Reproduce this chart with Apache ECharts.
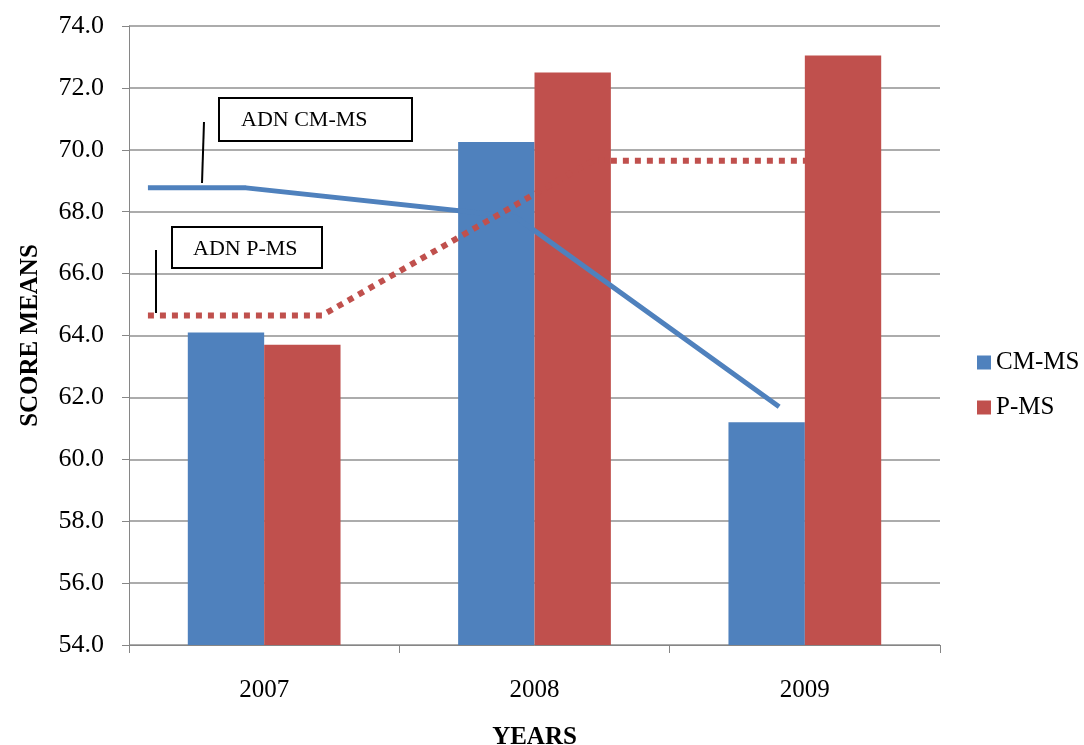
<!DOCTYPE html>
<html>
<head>
<meta charset="utf-8">
<script src="https://cdn.jsdelivr.net/npm/echarts@6/dist/echarts.min.js"></script>
<style>
  html, body { margin: 0; padding: 0; background: #fff; }
  #chart { width: 1084px; height: 745px; }
</style>
</head>
<body>
<div id="chart"></div>
<script>
// Score means by year
let years = ['2007', '2008', '2009'];
let cmMs = [64.1, 70.25, 61.2];
let pMs = [63.7, 72.5, 73.05];

// ADN lines, x in category units (0 = 2007, 1 = 2008, 2 = 2009)
let adnCmX = [-0.43, -0.067, 0.928, 1.905];
let adnCmY = [68.77, 68.77, 67.84, 61.7];
let adnPX = [-0.43, 0.214, 1.217, 2.012];
let adnPY = [64.65, 64.65, 69.65, 69.65];

let yTicks = { min: 54, max: 74, interval: 2 };

let blue = '#4F81BD';
let red = '#C0504D';
let font = '"Liberation Serif", "Times New Roman", serif';

function pairs(xs, ys) {
    return xs.map(function (x, i) { return [x, ys[i]]; });
}

let chart = echarts.init(document.getElementById('chart'));

let option = {
    animation: false,
    backgroundColor: '#fff',
    textStyle: { fontFamily: font, color: '#000' },

    grid: { left: 129, right: 144, top: 26, bottom: 100, outerBoundsMode: 'none', containLabel: false },

    legend: {
        data: ['CM-MS', 'P-MS'],
        orient: 'vertical',
        left: 972,
        top: 345,
        itemWidth: 14,
        itemHeight: 14,
        itemGap: 20,
        icon: 'rect',
        textStyle: { fontFamily: font, fontSize: 25, color: '#000' },
    },

    xAxis: [
        {
            type: 'category',
            data: years,
            name: 'YEARS',
            nameLocation: 'middle',
            nameGap: 80,
            nameTextStyle: { fontFamily: font, fontSize: 25, fontWeight: 'bold', color: '#000' },
            axisLine: { lineStyle: { color: '#868686', width: 1 } },
            axisTick: { show: true, length: 8, lineStyle: { color: '#868686' } },
            axisLabel: { margin: 33, fontFamily: font, fontSize: 25, color: '#000' },
        },
        {
            type: 'value',
            min: -0.5,
            max: 2.5,
            show: false,
        },
    ],

    yAxis: {
        type: 'value',
        min: yTicks.min,
        max: yTicks.max,
        interval: yTicks.interval,
        name: 'SCORE MEANS',
        nameLocation: 'middle',
        nameGap: 86,
        nameTextStyle: { fontFamily: font, fontSize: 25, fontWeight: 'bold', color: '#000' },
        axisLine: { show: true, onZero: false, lineStyle: { color: '#868686', width: 1 } },
        axisTick: { show: true, length: 7, lineStyle: { color: '#868686' } },
        axisLabel: {
            margin: 25,
            fontFamily: font,
            fontSize: 26,
            color: '#000',
            formatter: function (v) { return v.toFixed(1); },
        },
        splitLine: { lineStyle: { color: '#acacac', width: 2 } },
    },

    series: [
        {
            name: 'CM-MS',
            type: 'bar',
            data: cmMs,
            barGap: '0%',
            barCategoryGap: '43.5%',
            itemStyle: { color: blue },
        },
        {
            name: 'P-MS',
            type: 'bar',
            data: pMs,
            itemStyle: { color: red },
        },
        {
            name: 'ADN CM-MS',
            type: 'line',
            xAxisIndex: 1,
            data: pairs(adnCmX, adnCmY),
            symbol: 'none',
            lineStyle: { color: blue, width: 5 },
            z: 5,
        },
        {
            name: 'ADN P-MS',
            type: 'line',
            xAxisIndex: 1,
            data: pairs(adnPX, adnPY),
            symbol: 'none',
            lineStyle: { color: red, width: 6, type: [6, 6], cap: 'butt' },
            z: 5,
        },
    ],

    // Callout boxes
    graphic: [
        {
            type: 'rect',
            shape: { x: 219, y: 98, width: 193, height: 43 },
            style: { fill: '#fff', stroke: '#000', lineWidth: 2 },
            z: 10,
        },
        {
            type: 'text',
            x: 241,
            y: 120,
            style: { text: 'ADN CM-MS', font: '22px ' + font, fill: '#000', textVerticalAlign: 'middle' },
            z: 11,
        },
        {
            type: 'line',
            shape: { x1: 204, y1: 122, x2: 202, y2: 183 },
            style: { stroke: '#000', lineWidth: 2 },
            z: 10,
        },
        {
            type: 'rect',
            shape: { x: 172, y: 227, width: 150, height: 41 },
            style: { fill: '#fff', stroke: '#000', lineWidth: 2 },
            z: 10,
        },
        {
            type: 'text',
            x: 193,
            y: 249,
            style: { text: 'ADN P-MS', font: '22px ' + font, fill: '#000', textVerticalAlign: 'middle' },
            z: 11,
        },
        {
            type: 'line',
            shape: { x1: 156, y1: 250, x2: 156, y2: 313 },
            style: { stroke: '#000', lineWidth: 2 },
            z: 10,
        },
    ],
};

chart.setOption(option);
</script>
</body>
</html>
